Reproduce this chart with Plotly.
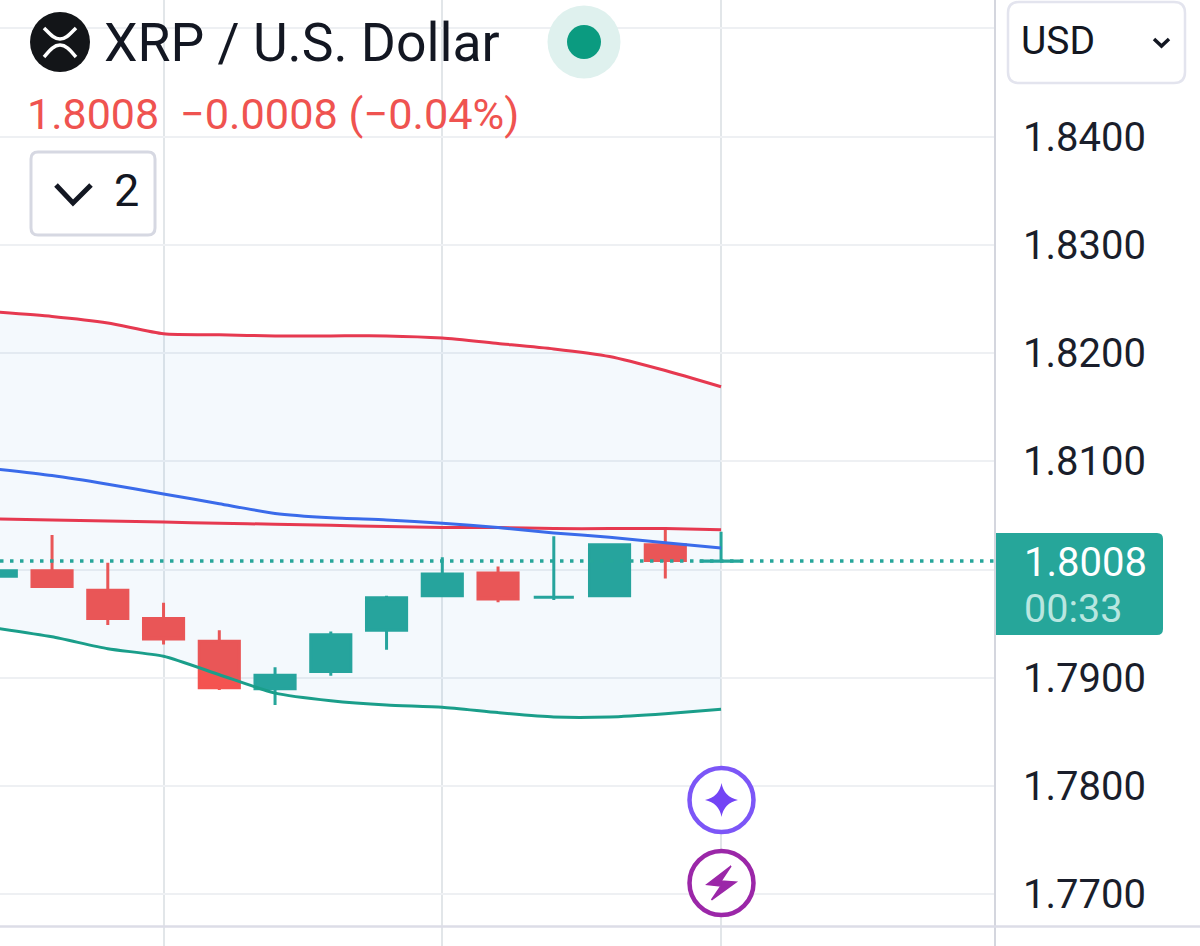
import plotly.graph_objects as go

WIDTH = 1200
HEIGHT = 946

# candles, one per bar
bars = list(range(14))
opens = [1.7994, 1.7999, 1.7981, 1.7955, 1.7934, 1.7890, 1.7906, 1.7944, 1.7976, 1.7997, 1.79745, 1.7976, 1.8023, 1.80078]
highs = [1.7999, 1.8032, 1.80065, 1.79695, 1.7944, 1.7910, 1.7943, 1.7976, 1.80115, 1.8003, 1.8031, 1.8023, 1.8037, 1.8035]
lows = [1.7994, 1.79845, 1.7949, 1.7931, 1.7889, 1.7875, 1.7902, 1.7926, 1.7976, 1.7970, 1.7972, 1.7976, 1.7992, 1.80078]
closes = [1.7999, 1.79845, 1.7955, 1.7936, 1.7891, 1.79025, 1.7940, 1.7974, 1.7996, 1.7973, 1.79745, 1.8023, 1.80085, 1.8008]

# indicators
band_upper = [1.8238, 1.8234, 1.8228, 1.8218, 1.8217, 1.8216, 1.8216, 1.8216, 1.8214, 1.8209, 1.8204, 1.8197, 1.8184, 1.8169]
band_basis = [1.8093, 1.8087, 1.8079, 1.8070, 1.8061, 1.8052, 1.8048, 1.8046, 1.8043, 1.8039, 1.8034, 1.8030, 1.8025, 1.8020]
band_lower = [1.7946, 1.7938, 1.7927, 1.7920, 1.7903, 1.7886, 1.7879, 1.7875, 1.7873, 1.7868, 1.7864, 1.7864, 1.7867, 1.7871]
moving_avg = [1.8047, 1.8046, 1.8045, 1.8044, 1.8043, 1.8042, 1.8041, 1.8040, 1.8039, 1.8039, 1.8038, 1.8038, 1.8038, 1.8037]

last_price = 1.8008
price_ticks = [1.77, 1.78, 1.79, 1.80, 1.81, 1.82, 1.83, 1.84, 1.85]
# 1.80 sits behind the price tag and 1.85 behind the currency box
price_labels = ["1.7700", "1.7800", "1.7900", "", "1.8100", "1.8200", "1.8300", "1.8400", ""]
time_ticks = [3, 8, 13]

TEAL = "#26a69a"
RED = "#f45350"
TEXT_RED = "#ef5350"
INK = "#131722"
BORDER = "#d6d8e2"


def px_x(x):
    return x / WIDTH


def px_y(y):
    return 1 - y / HEIGHT


def path(*parts):
    # parts are svg commands or (x, y) pixel pairs
    out = []
    for p in parts:
        if isinstance(p, str):
            out.append(p)
        else:
            out.append(f"{px_x(p[0]):.5f},{px_y(p[1]):.5f}")
    return " ".join(out)


def rounded_box(x0, y0, x1, y1, r, left=True):
    rl = r if left else 0
    return path("M", (x0 + rl, y0), "L", (x1 - r, y0), "Q", (x1, y0), (x1, y0 + r),
                "L", (x1, y1 - r), "Q", (x1, y1), (x1 - r, y1),
                "L", (x0 + rl, y1), "Q", (x0, y1), (x0, y1 - rl),
                "L", (x0, y0 + rl), "Q", (x0, y0), (x0 + rl, y0), "Z")


def circle(cx, cy, r, fill, line=None, width=0):
    return dict(type="circle", xref="paper", yref="paper",
                x0=px_x(cx - r), x1=px_x(cx + r), y0=px_y(cy + r), y1=px_y(cy - r),
                fillcolor=fill, line=dict(color=line, width=width), layer="above")


def stroke(d, color, width):
    return dict(type="path", xref="paper", yref="paper", path=d,
                line=dict(color=color, width=width), layer="above")


def solid(d, color, width=0):
    return dict(type="path", xref="paper", yref="paper", path=d, fillcolor=color,
                line=dict(color=color, width=width), layer="above")


def label(text, x, y, size, color=INK):
    return dict(text=text, xref="paper", yref="paper", x=px_x(x), y=px_y(y),
                xanchor="left", yanchor="middle", showarrow=False,
                font=dict(family="Roboto", size=size, color=color))


def band_line(color):
    return dict(color=color, width=3, shape="spline", smoothing=0.6)


fig = go.Figure()
fig.add_trace(go.Scatter(x=bars, y=band_upper, mode="lines", line=band_line("#e63950")))
fig.add_trace(go.Scatter(x=bars, y=band_lower, mode="lines", line=band_line("#1a9e8a"),
                         fill="tonexty", fillcolor="rgba(50,150,225,0.055)"))
fig.add_trace(go.Scatter(x=bars, y=moving_avg, mode="lines", line=band_line("#e63950")))
fig.add_trace(go.Scatter(x=bars, y=band_basis, mode="lines", line=band_line("#3a6bea")))
fig.add_trace(go.Candlestick(
    x=bars, open=opens, high=highs, low=lows, close=closes,
    increasing=dict(line=dict(color=TEAL, width=3), fillcolor=TEAL),
    decreasing=dict(line=dict(color=RED, width=3), fillcolor=RED),
))

shapes = [
    # last price line
    dict(type="line", xref="paper", yref="y", x0=0, x1=px_x(994), y0=last_price, y1=last_price,
         line=dict(color=TEAL, width=3.5, dash="3.5px,6.5px"), layer="above"),
    # bottom rule
    dict(type="line", xref="paper", yref="paper", x0=0, x1=1, y0=px_y(926.5), y1=px_y(926.5),
         line=dict(color="#dcdde7", width=2.5), layer="above"),
    # header
    circle(60, 42, 30, "#131518"),
    stroke(path("M", (44, 28), "C", (50, 34), (54, 39), (60, 39), "C", (66, 39), (70, 34), (76, 28)), "white", 3.5),
    stroke(path("M", (44, 57), "C", (50, 50), (54, 45), (60, 45), "C", (66, 45), (70, 50), (76, 57)), "white", 3.5),
    circle(584, 42, 36.5, "#dff1ee"),
    circle(584, 42, 17, "#0b9b80"),
    # collapse button
    dict(type="path", xref="paper", yref="paper", path=rounded_box(31, 152, 155, 235, 7),
         fillcolor="white", line=dict(color=BORDER, width=3), layer="above"),
    stroke(path("M", (56, 185), "L", (73, 203), "L", (91, 185)), INK, 5),
    # currency box
    dict(type="path", xref="paper", yref="paper", path=rounded_box(1008, 2, 1185, 83, 11),
         fillcolor="white", line=dict(color="#e3e4ee", width=2.5), layer="above"),
    stroke(path("M", (1154, 39), "L", (1161.5, 46), "L", (1169, 39)), INK, 3.5),
    # price tag
    solid(rounded_box(996, 533, 1163, 635, 6, left=False), TEAL),
    # indicator badges
    circle(721.5, 800, 32, "white", "#7c56f7", 4.5),
    solid(path("M", (721.5, 783), "Q", (724, 797), (738, 800), "Q", (724, 803), (721.5, 817),
               "Q", (719, 803), (705, 800), "Q", (719, 797), (721.5, 783), "Z"), "#7344f5"),
    circle(721.5, 883, 32, "white", "#9b27a8", 4.5),
    solid(path("M", (731, 866), "L", (707, 884.5), "L", (721, 886), "L", (711.5, 900),
               "L", (736, 882), "L", (721, 881), "Z"), "#9b27a8", 1.5),
]

annotations = [
    label("XRP / U.S. Dollar", 102, 42, 53.5),
    label("1.8008", 25, 114, 43, TEXT_RED),
    label("−0.0008 (−0.04%)", 178, 114, 43.3, TEXT_RED),
    label("2", 112, 191, 45),
    label("USD", 1019, 41, 39),
    label("1.8008", 1022, 562, 40, "white"),
    label("00:33", 1022, 608, 39.5, "#b9e6e0"),
]

fig.update_layout(
    width=WIDTH,
    height=HEIGHT,
    margin=dict(l=0, r=0, t=0, b=0),
    paper_bgcolor="white",
    plot_bgcolor="white",
    showlegend=False,
    hovermode=False,
    boxgap=0.28,
    boxgroupgap=0,
    shapes=shapes,
    annotations=annotations,
    xaxis=dict(
        domain=[0, 994 / WIDTH],
        range=[0.0664, 17.896],
        rangeslider=dict(visible=False),
        tickmode="array",
        tickvals=time_ticks,
        showticklabels=False,
        showgrid=True,
        gridcolor="#e2e6e9",
        gridwidth=1.5,
        zeroline=False,
    ),
    yaxis=dict(
        side="right",
        range=[1.76524, 1.85263],
        tickmode="array",
        tickvals=price_ticks,
        ticktext=price_labels,
        ticks="outside",
        ticklen=0,
        ticklabelstandoff=19,
        tickfont=dict(family="Roboto", size=40, color="#1a1e2b"),
        showgrid=True,
        gridcolor="#eef0f3",
        gridwidth=2,
        zeroline=False,
        showline=True,
        linecolor="#d4d6de",
        linewidth=2,
    ),
)

fig.write_html("out.html", config={"displayModeBar": False}, post_script="document.body.style.margin='0';")
